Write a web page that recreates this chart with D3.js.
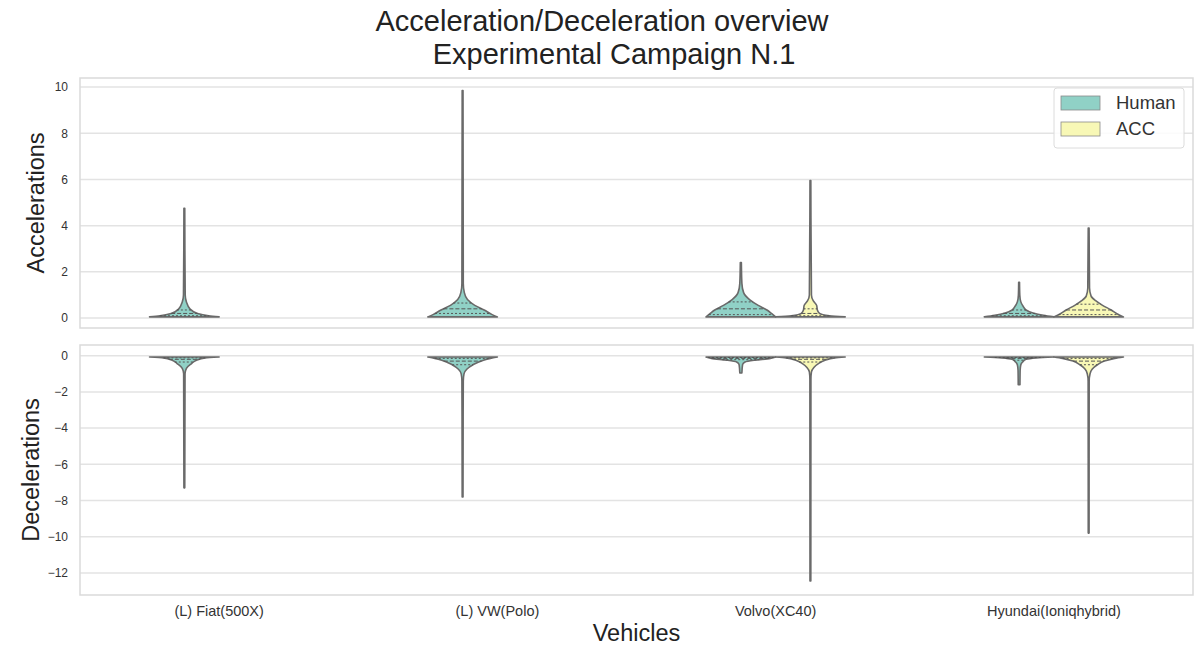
<!DOCTYPE html>
<html>
<head>
<meta charset="utf-8">
<script src="https://cdn.jsdelivr.net/npm/d3@7"></script>
<style>
  body { margin: 0; background: #fff; }
  svg { font-family: "Liberation Sans", Arial, sans-serif; }
</style>
</head>
<body>
<div id="chart"></div>
<script>
// Categories and hues
const vehicles = ["(L) Fiat(500X)", "(L) VW(Polo)", "Volvo(XC40)", "Hyundai(Ioniqhybrid)"];
const drivers = ["Human", "ACC"];

// Violin profiles: [value, relative half-width]
const accelHuman = [
  [[0.05, 1], [0.1, 0.7], [0.2, 0.38], [0.4, 0.16], [0.7, 0.06], [1.0, 0.025], [4.75, 0.012]],
  [[0.05, 1], [0.15, 0.85], [0.35, 0.62], [0.55, 0.35], [0.8, 0.14], [1.1, 0.05], [1.5, 0.02], [9.85, 0.012]],
  [[0.05, 1], [0.2, 0.88], [0.35, 0.75], [0.55, 0.5], [0.8, 0.25], [1.1, 0.08], [1.5, 0.03], [2.4, 0.015]],
  [[0.05, 1], [0.12, 0.7], [0.22, 0.4], [0.35, 0.2], [0.5, 0.12], [0.7, 0.05], [1.0, 0.02], [1.55, 0.012]]
];
const accelACC = [
  null,
  null,
  [[0.05, 1], [0.1, 0.55], [0.2, 0.26], [0.35, 0.2], [0.55, 0.18], [0.75, 0.08], [1.0, 0.03], [5.95, 0.012]],
  [[0.05, 1], [0.2, 0.8], [0.35, 0.65], [0.55, 0.4], [0.75, 0.2], [0.95, 0.07], [1.3, 0.025], [3.9, 0.012]]
];
const decelHuman = [
  [[-0.07, 1], [-0.12, 0.6], [-0.25, 0.35], [-0.45, 0.2], [-0.7, 0.06], [-1.0, 0.02], [-7.3, 0.012]],
  [[-0.07, 1], [-0.15, 0.8], [-0.25, 0.6], [-0.5, 0.3], [-0.75, 0.12], [-1.0, 0.04], [-1.4, 0.02], [-7.8, 0.012]],
  [[-0.07, 1], [-0.15, 0.85], [-0.25, 0.4], [-0.35, 0.12], [-0.5, 0.05], [-0.96, 0.03]],
  [[-0.07, 1], [-0.12, 0.5], [-0.2, 0.2], [-0.35, 0.1], [-0.5, 0.05], [-0.8, 0.03], [-1.6, 0.025]]
];
const decelACC = [
  null,
  null,
  [[-0.07, 1], [-0.12, 0.7], [-0.25, 0.42], [-0.45, 0.22], [-0.65, 0.1], [-0.9, 0.03], [-1.3, 0.015], [-12.45, 0.012]],
  [[-0.07, 1], [-0.15, 0.75], [-0.3, 0.45], [-0.5, 0.25], [-0.75, 0.1], [-1.0, 0.04], [-1.4, 0.015], [-9.8, 0.012]]
];

// Quartiles (Q1, median, Q3) drawn as dashed inner lines
const accelHumanQ = [[0.1, 0.2, 0.35], [0.2, 0.4, 0.65], [0.15, 0.4, 0.7], [0.1, 0.2, 0.35]];
const accelACCQ = [null, null, [0.1, 0.2, 0.4], [0.15, 0.35, 0.6]];
const decelHumanQ = [[-0.12, -0.2, -0.35], [-0.15, -0.3, -0.5], [-0.1, -0.15, -0.22], [-0.1, -0.15, -0.25]];
const decelACCQ = [null, null, [-0.12, -0.2, -0.35], [-0.15, -0.3, -0.5]];

const accelTicks = [0, 2, 4, 6, 8, 10];
const decelTicks = [0, -2, -4, -6, -8, -10, -12];

const colors = ["#90d1c6", "#f8f8b6"];

// Dimensions
const width = 1196;
const height = 647;
const marginLeft = 80;
const marginRight = 3;

const svg = d3.select("#chart").append("svg")
  .attr("width", width)
  .attr("height", height)
  .attr("viewBox", [0, 0, width, height]);

const x = d3.scaleBand()
  .domain(vehicles)
  .range([marginLeft, width - marginRight]);

const hue = d3.scaleBand()
  .domain(drivers)
  .range([-x.bandwidth() / 4, x.bandwidth() / 4]);

const w = d3.scaleLinear()
  .domain([0, 1])
  .range([0, hue.bandwidth() / 2]);

const yTop = d3.scaleLinear().domain([-0.43, 10.39]).range([328, 78]);
const yBot = d3.scaleLinear().domain([0.59, -13.22]).range([345, 595]);

// width at a value, linear between profile points
function widthAt(profile, v) {
  const p = profile.slice().sort((a, b) => a[0] - b[0]);
  for (let i = 0; i < p.length - 1; i++) {
    if (v >= p[i][0] && v <= p[i + 1][0]) {
      const t = (v - p[i][0]) / (p[i + 1][0] - p[i][0]);
      return p[i][1] + t * (p[i + 1][1] - p[i][1]);
    }
  }
  return 0;
}

function panel(y, ticks, human, acc, humanQ, accQ, label, labelX) {
  const g = svg.append("g");
  const [y0, y1] = y.range();

  // grid
  g.append("g")
    .selectAll("line")
    .data(ticks)
    .join("line")
    .attr("x1", marginLeft)
    .attr("x2", width - marginRight)
    .attr("y1", d => y(d))
    .attr("y2", d => y(d))
    .attr("stroke", "#e3e3e3")
    .attr("stroke-width", 1.5);

  // frame
  g.append("rect")
    .attr("x", marginLeft)
    .attr("y", Math.min(y0, y1))
    .attr("width", width - marginRight - marginLeft)
    .attr("height", Math.abs(y1 - y0))
    .attr("fill", "none")
    .attr("stroke", "#dadada")
    .attr("stroke-width", 1.5);

  // y axis
  g.append("g")
    .attr("transform", `translate(${marginLeft},0)`)
    .call(d3.axisLeft(y).tickValues(ticks).tickSize(0).tickPadding(12).tickFormat(d3.format("d")))
    .call(g => g.select(".domain").remove())
    .call(g => g.selectAll("text")
      .attr("font-size", 12)
      .attr("fill", "#333")
      .attr("font-family", "Liberation Sans, Arial, sans-serif"));

  g.append("text")
    .attr("transform", `translate(${labelX},${(y0 + y1) / 2}) rotate(-90)`)
    .attr("text-anchor", "middle")
    .attr("dy", "0.35em")
    .attr("font-size", 23.5)
    .attr("fill", "#222")
    .text(label);

  const area = d3.area()
    .y(d => y(d[0]))
    .curve(d3.curveMonotoneY);

  const sets = [[human, humanQ, 0], [acc, accQ, 1]];
  sets.forEach(([profiles, quarts, hi]) => {
    profiles.forEach((prof, i) => {
      if (!prof) return;
      const cx = x(vehicles[i]) + x.bandwidth() / 2 + hue(drivers[hi]) + hue.bandwidth() / 2;
      g.append("path")
        .datum(prof)
        .attr("d", area.x0(d => cx - w(d[1])).x1(d => cx + w(d[1])))
        .attr("fill", colors[hi])
        .attr("stroke", "#6a6a6a")
        .attr("stroke-width", 1.6)
        .attr("stroke-linejoin", "round");
      const q = quarts[i];
      g.append("g")
        .selectAll("line")
        .data(q)
        .join("line")
        .attr("x1", d => cx - w(widthAt(prof, d)))
        .attr("x2", d => cx + w(widthAt(prof, d)))
        .attr("y1", d => y(d))
        .attr("y2", d => y(d))
        .attr("stroke", "#555")
        .attr("stroke-width", 1)
        .attr("stroke-dasharray", (d, j) => j === 1 ? "4,2" : "2,2");
    });
  });
}

panel(yTop, accelTicks, accelHuman, accelACC, accelHumanQ, accelACCQ, "Accelerations", 36);
panel(yBot, decelTicks, decelHuman, decelACC, decelHumanQ, decelACCQ, "Decelerations", 31);

// x axis labels
svg.append("g")
  .attr("transform", `translate(0,595)`)
  .call(d3.axisBottom(x).tickSize(0).tickPadding(11))
  .call(g => g.select(".domain").remove())
  .call(g => g.selectAll("text")
    .attr("font-size", 14.5)
    .attr("fill", "#333")
    .attr("font-family", "Liberation Sans, Arial, sans-serif"));

svg.append("text")
  .attr("x", (marginLeft + width - marginRight) / 2)
  .attr("y", 641)
  .attr("text-anchor", "middle")
  .attr("font-size", 23.5)
  .attr("fill", "#222")
  .text("Vehicles");

// title
svg.append("text")
  .attr("x", 602)
  .attr("y", 31)
  .attr("text-anchor", "middle")
  .attr("font-size", 29)
  .attr("fill", "#222")
  .text("Acceleration/Deceleration overview");
svg.append("text")
  .attr("x", 614)
  .attr("y", 64)
  .attr("text-anchor", "middle")
  .attr("font-size", 29)
  .attr("fill", "#222")
  .text("Experimental Campaign N.1");

// legend
const legend = svg.append("g").attr("transform", "translate(1054,88)");
legend.append("rect")
  .attr("width", 130)
  .attr("height", 60)
  .attr("rx", 3)
  .attr("fill", "#fff")
  .attr("fill-opacity", 0.85)
  .attr("stroke", "#dcdcdc");
drivers.forEach((d, i) => {
  legend.append("rect")
    .attr("x", 7)
    .attr("y", 8 + i * 26)
    .attr("width", 39)
    .attr("height", 14)
    .attr("fill", colors[i])
    .attr("stroke", "#8a8a8a")
    .attr("stroke-width", 0.8);
  legend.append("text")
    .attr("x", 62)
    .attr("y", 21 + i * 26)
    .attr("font-size", 18.5)
    .attr("fill", "#333")
    .text(d);
});
</script>
</body>
</html>
